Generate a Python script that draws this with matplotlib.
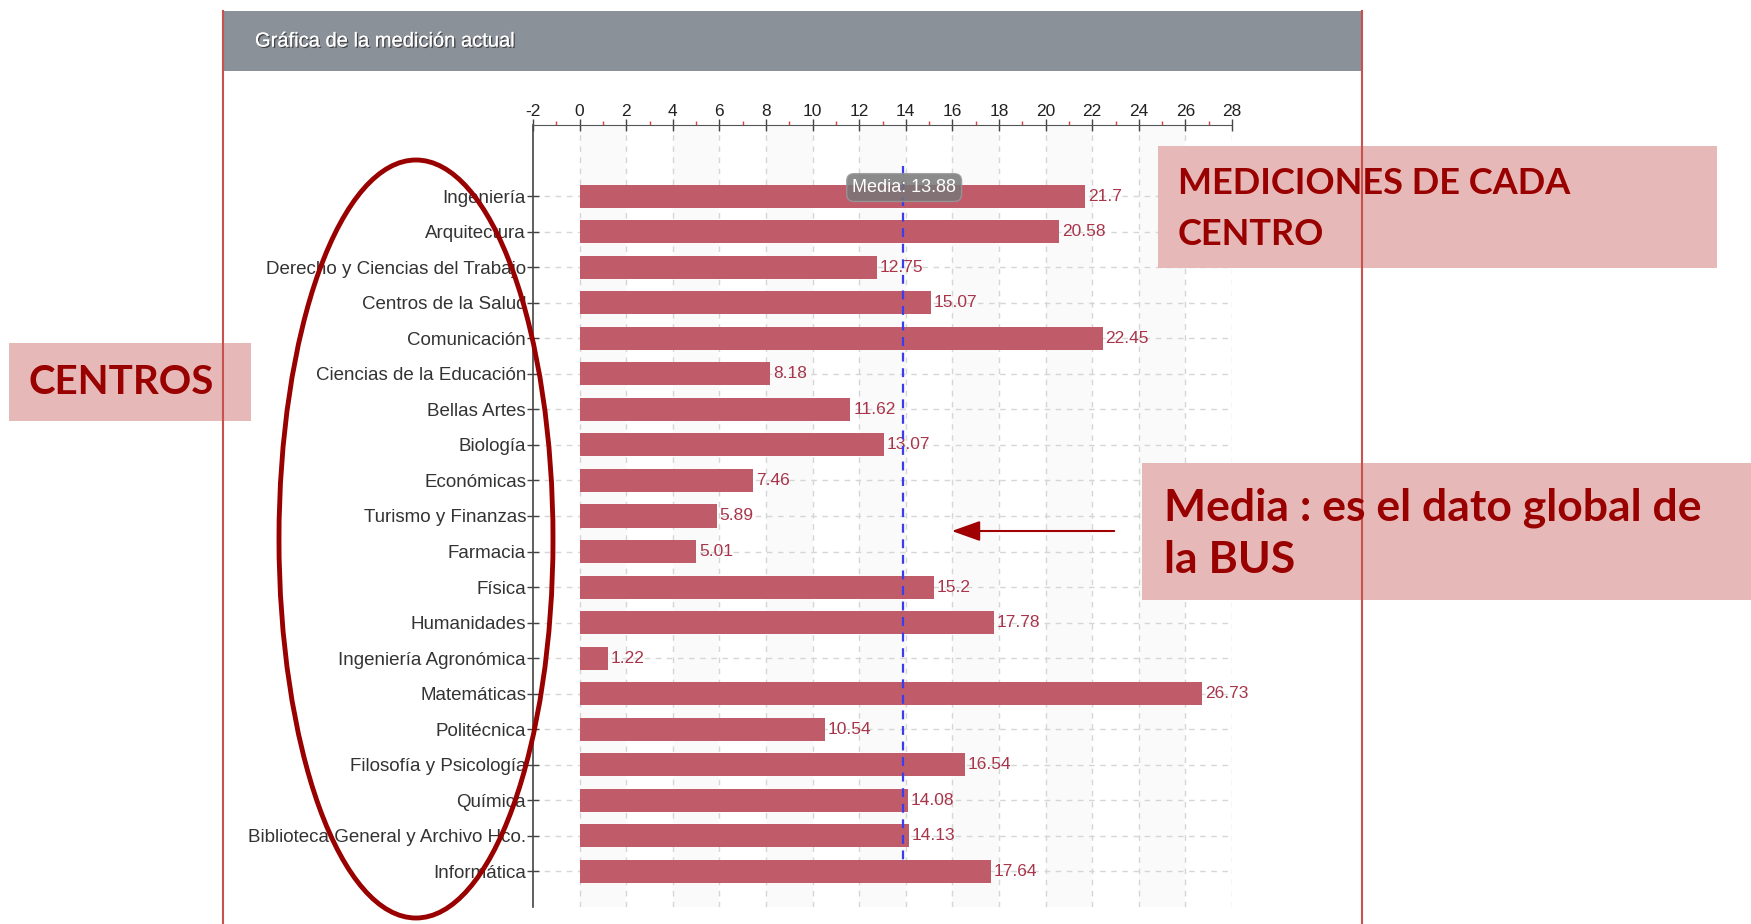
import matplotlib
matplotlib.use("Agg")
import matplotlib.pyplot as plt
import matplotlib.patheffects as pe
from matplotlib.patches import Rectangle, Ellipse, FancyArrowPatch

plt.rcParams['font.family'] = ['Liberation Sans', 'DejaVu Sans']
plt.rcParams['axes.unicode_minus'] = False

# data
centros = [
    "Ingeniería", "Arquitectura", "Derecho y Ciencias del Trabajo",
    "Centros de la Salud", "Comunicación", "Ciencias de la Educación",
    "Bellas Artes", "Biología", "Económicas", "Turismo y Finanzas",
    "Farmacia", "Física", "Humanidades", "Ingeniería Agronómica",
    "Matemáticas", "Politécnica", "Filosofía y Psicología", "Química",
    "Biblioteca General y Archivo Hco.", "Informática",
]
mediciones = [21.7, 20.58, 12.75, 15.07, 22.45, 8.18, 11.62, 13.07, 7.46, 5.89,
              5.01, 15.2, 17.78, 1.22, 26.73, 10.54, 16.54, 14.08, 14.13, 17.64]
media = 13.88
x_ticks = list(range(-2, 29, 2))

W, H = 1751, 924
fig = plt.figure(figsize=(W / 100, H / 100), dpi=100)
fig.patch.set_facecolor('white')

# ---- chart ----
ax = fig.add_axes([533 / W, 1 - 907 / H, 699 / W, (907 - 125) / H])
ax.set_facecolor('white')
ypos = list(range(len(centros)))

for k in range(0, 28, 4):
    ax.axvspan(k, k + 2, color='#fafafa', zorder=0, lw=0)

ax.barh(ypos, mediciones, height=0.65, color='#c05b6a', zorder=3)
for y, v in zip(ypos, mediciones):
    ax.text(v + 0.12, y, f"{v:g}", va='center', ha='left', fontsize=12.5,
            color='#a8354a', zorder=4)

ax.set_xlim(-2, 28)
ax.set_ylim(len(centros), -2.0)

ax.xaxis.tick_top()
ax.set_xticks(x_ticks)
ax.set_xticks(range(-1, 28, 2), minor=True)
ax.tick_params(axis='x', which='major', direction='inout', length=8, width=1,
               color='#444444', labelsize=12.5, labelcolor='#222222', pad=0)
ax.tick_params(axis='x', which='minor', direction='out', length=3, width=1,
               color='#e04040')
ax.set_yticks(ypos)
ax.set_yticklabels(centros)
ax.tick_params(axis='y', direction='inout', length=8, width=1, color='#444444',
               labelsize=13.5, labelcolor='#333333', pad=1)

for s in ['right', 'bottom']:
    ax.spines[s].set_visible(False)
ax.spines['top'].set_color('#555555')
ax.spines['left'].set_color('#444444')
ax.spines['left'].set_linewidth(1.2)

for k in range(0, 29, 2):
    ax.axvline(k, color='#d6d6d6', lw=1, ls=(0, (4, 4)), zorder=1)
for y in ypos:
    ax.axhline(y, xmin=0, xmax=1, color='#d6d6d6', lw=1, ls=(0, (4, 4)), zorder=1)

ax.plot([media, media], [-0.85, 18.8], color='#3b3bf0', lw=1.6,
        ls=(0, (4, 3)), zorder=5)
ax.text(media + 0.05, -0.24, f"Media: {media}", ha='center', va='center',
        fontsize=13, color='white', zorder=6,
        bbox=dict(boxstyle='round,pad=0.3,rounding_size=0.4', fc='#777777',
                  ec='#999999', alpha=0.85))

# ---- overlay in pixel coordinates ----
ov = fig.add_axes([0, 0, 1, 1], zorder=10)
ov.set_xlim(0, W)
ov.set_ylim(H, 0)
ov.axis('off')
ov.patch.set_visible(False)

ov.add_patch(Rectangle((223, 11), 1139, 60, color='#8b9199', lw=0))
ov.plot([223, 223], [11, H], color='#c8504d', lw=1.5)
ov.plot([1362, 1362], [11, H], color='#c8504d', lw=1.5)
ov.text(255, 41, "Gráfica de la medición actual", color='white', fontsize=14.5,
        va='center', ha='left',
        path_effects=[pe.withSimplePatchShadow(offset=(1, -1), shadow_rgbFace='#333333',
                                               alpha=0.8), pe.Normal()])

ann_font = ['Lato', 'DejaVu Sans']
ov.add_patch(Rectangle((1158, 146), 559, 122, color='#e6b8b7', lw=0))
ov.text(1178, 209, "MEDICIONES DE CADA\nCENTRO", color='#990000', fontsize=26,
        fontweight='bold', family=ann_font, va='center', ha='left', linespacing=1.68)

ov.add_patch(Rectangle((9, 343), 242, 78, color='#e6b8b7', lw=0))
ov.text(28, 383, "CENTROS", color='#990000', fontsize=29, fontweight='bold',
        family=ann_font, va='center', ha='left')

ov.add_patch(Rectangle((1142, 463), 609, 137, color='#e6b8b7', lw=0))
ov.text(1164, 534, "Media : es el dato global de\nla BUS", color='#990000',
        fontsize=32, fontweight='bold', family=ann_font, va='center', ha='left',
        linespacing=1.35)

ov.add_patch(FancyArrowPatch((1117, 531), (949, 531),
                             arrowstyle='-|>,head_length=0.7,head_width=0.25',
                             mutation_scale=25, color='#a00000', lw=1.5))

ov.add_patch(Ellipse((416, 539), 274, 758, fill=False, edgecolor='#990000', lw=3.5))

fig.savefig("out.png", dpi=100)
